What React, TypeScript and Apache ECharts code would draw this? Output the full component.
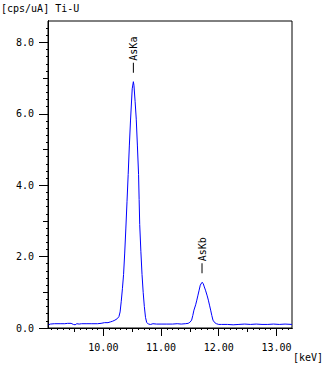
import React, { useEffect, useRef } from "react";
import * as echarts from "echarts";

const energies = [
  9.05, 9.08, 9.15, 9.25, 9.33, 9.38, 9.44, 9.48, 9.51, 9.54, 9.58, 9.62, 9.7, 9.8, 9.9, 9.96,
  10.02, 10.08, 10.12, 10.16, 10.2, 10.24, 10.27, 10.29, 10.31, 10.33, 10.35, 10.37, 10.39, 10.41,
  10.43, 10.45, 10.47, 10.5, 10.52, 10.53, 10.55, 10.57, 10.59, 10.61, 10.62, 10.63, 10.65, 10.67,
  10.69, 10.71, 10.73, 10.75, 10.78, 10.82, 10.86, 10.92, 11.0, 11.1, 11.2, 11.28, 11.35, 11.42,
  11.47, 11.5, 11.53, 11.55, 11.57, 11.6, 11.62, 11.64, 11.66, 11.68, 11.71, 11.73, 11.75, 11.77,
  11.8, 11.82, 11.84, 11.86, 11.88, 11.9, 11.93, 11.96, 12.0, 12.05, 12.15, 12.25, 12.35, 12.45,
  12.55, 12.65, 12.75, 12.85, 12.95, 13.05, 13.15, 13.27,
];
const intensities = [
  0.09, 0.11, 0.12, 0.12, 0.12, 0.13, 0.13, 0.1, 0.09, 0.12, 0.11, 0.12, 0.12, 0.12, 0.12, 0.13,
  0.15, 0.15, 0.17, 0.19, 0.22, 0.26, 0.32, 0.45, 0.75, 1.1, 1.5, 2.1, 2.8, 3.55,
  4.3, 5.1, 5.8, 6.7, 6.9, 6.8, 6.35, 5.85, 5.1, 4.3, 3.6, 2.9, 2.15, 1.5,
  1.0, 0.6, 0.3, 0.16, 0.11, 0.1, 0.12, 0.11, 0.11, 0.11, 0.11, 0.12, 0.11, 0.12,
  0.13, 0.16, 0.22, 0.35, 0.5, 0.65, 0.78, 0.92, 1.06, 1.2, 1.28, 1.25, 1.15, 1.06,
  0.9, 0.78, 0.64, 0.5, 0.35, 0.22, 0.15, 0.12, 0.1, 0.1, 0.1, 0.09, 0.1, 0.11,
  0.1, 0.11, 0.1, 0.1, 0.11, 0.1, 0.11, 0.1,
];

const peakNames = ["AsKa", "AsKb"];
const peakEnergies = [10.52, 11.71];
const peakHeights = [6.9, 1.28];

const xMajorTicks = [10, 11, 12, 13];
const xMidTicks = [9.5, 10.5, 11.5, 12.5];
const yMajorTicks = [0, 2, 4, 6, 8];
const yMidTicks = [1, 3, 5, 7];

const xMin = 9.04;
const xMax = 13.27;
const yMin = 0;
const yMax = 8.6;

const xMinorTicks: number[] = [];
for (let i = 91; i <= 132; i++) xMinorTicks.push(i / 10);
const yMinorTicks: number[] = [];
for (let i = 0; i <= 42; i++) yMinorTicks.push(i / 5);

const FONT = "DejaVu Sans Mono";

export default function App() {
  const ref = useRef<HTMLDivElement>(null);
  useEffect(() => {
    if (!ref.current) return;
    const chart = echarts.init(ref.current, undefined, { renderer: "svg" });
    const black = "#000";
    const mkX = (ticks: number[], len: number, labels: boolean) => ({
      type: "value",
      min: xMin,
      max: xMax,
      position: "bottom",
      axisLine: { show: true, onZero: false, lineStyle: { color: black, width: 1 } },
      axisTick: { show: true, customValues: ticks, length: len, inside: false, lineStyle: { color: black } },
      axisLabel: labels
        ? {
            show: true,
            customValues: xMajorTicks,
            formatter: (v: number) => v.toFixed(2),
            fontFamily: FONT,
            fontSize: 10,
            color: black,
            margin: 14,
          }
        : { show: false },
      splitLine: { show: false },
    });
    const mkY = (ticks: number[], len: number, labels: boolean) => ({
      type: "value",
      min: yMin,
      max: yMax,
      position: "left",
      axisLine: { show: true, onZero: false, lineStyle: { color: black, width: 1 } },
      axisTick: { show: true, customValues: ticks, length: len, inside: false, lineStyle: { color: black } },
      axisLabel: labels
        ? {
            show: true,
            customValues: yMajorTicks,
            formatter: (v: number) => v.toFixed(1),
            fontFamily: FONT,
            fontSize: 10,
            color: black,
            margin: 14,
          }
        : { show: false },
      splitLine: { show: false },
    });
    const data = energies.map((e, i) => [e, intensities[i]]);
    chart.setOption({
      animation: false,
      backgroundColor: "#fff",
      title: [
        {
          text: "[cps/uA] Ti-U",
          left: 1,
          top: 3,
          padding: 0,
          textStyle: { fontFamily: FONT, fontSize: 10, fontWeight: "normal", color: black },
        },
        {
          text: "[keV]",
          left: 293,
          top: 352,
          padding: 0,
          textStyle: { fontFamily: FONT, fontSize: 10, fontWeight: "normal", color: black },
        },
      ],
      grid: {
        left: 48,
        top: 21,
        right: 32,
        bottom: 42,
        show: true,
        borderColor: black,
        borderWidth: 1,
        backgroundColor: "transparent",
      },
      xAxis: [mkX(xMajorTicks, 8, true), mkX(xMidTicks, 4, false), mkX(xMinorTicks, 2, false)],
      yAxis: [mkY(yMajorTicks, 9, true), mkY(yMidTicks, 5, false), mkY(yMinorTicks, 2, false)],
      series: [
        {
          type: "line",
          xAxisIndex: 0,
          yAxisIndex: 0,
          data,
          showSymbol: false,
          symbol: "none",
          lineStyle: { color: "#0000ff", width: 1 },
          markPoint: {
            symbol: "rect",
            symbolSize: [1, 10],
            symbolOffset: [0, -14],
            itemStyle: { color: black },
            label: {
              show: true,
              position: "top",
              distance: 2,
              rotate: 90,
              align: "left",
              verticalAlign: "middle",
              fontFamily: FONT,
              fontSize: 10,
              color: black,
              formatter: (p: any) => p.name,
            },
            data: peakNames.map((n, i) => ({ name: n, coord: [peakEnergies[i], peakHeights[i]] })),
          },
        },
      ],
    });
    return () => chart.dispose();
  }, []);
  return (
    <div
      ref={ref}
      style={{ position: "fixed", left: 0, top: 0, width: 324, height: 370, background: "#fff" }}
    />
  );
}
